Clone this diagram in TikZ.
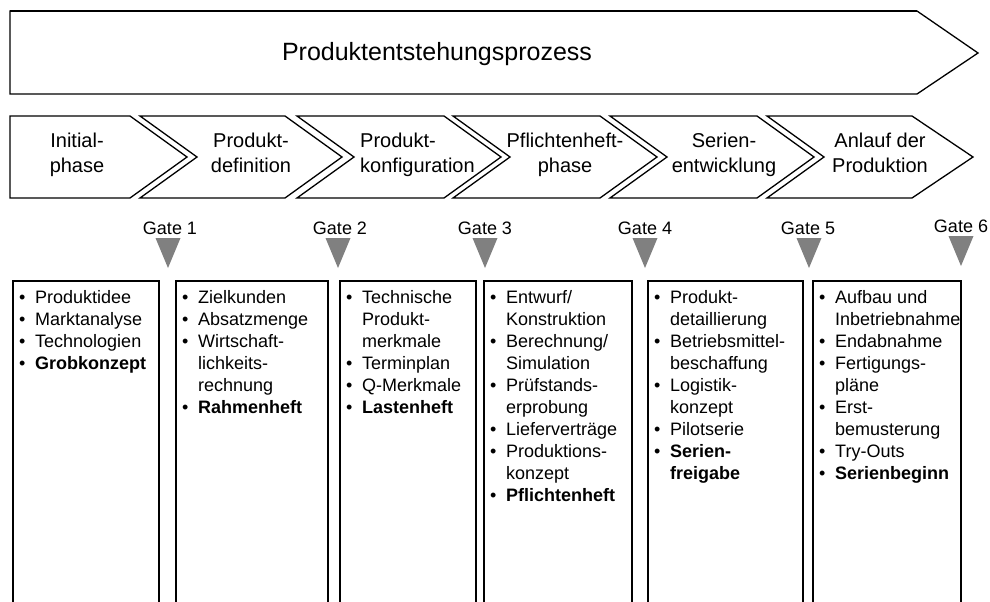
\documentclass[tikz,border=0pt]{standalone}
\usepackage{fontspec}
\setmainfont{Liberation Sans}
\begin{document}
\begin{tikzpicture}[x=1pt,y=-1pt,
  shapeline/.style={draw=black,line width=1.3pt,line join=miter,fill=white},
  boxline/.style={draw=black,line width=2.2pt},
  gatetri/.style={fill=black!50,draw=none},
  gatelabel/.style={anchor=base,inner sep=0pt,font=\fontsize{18}{22}\selectfont},
  phaselabel/.style={anchor=base,inner sep=0pt,font=\fontsize{20}{25}\selectfont},
  itemlist/.style={anchor=base west,inner sep=0pt,font=\fontsize{18}{22}\selectfont}]
\useasboundingbox (0,0) rectangle (990,602);
\fill[white] (0,0) rectangle (990,602);
% title arrow
\draw[shapeline] (10,11) -- (917,11) -- (978,53) -- (917,94) -- (10,94) -- cycle;
\draw[line width=2pt] (10,11) -- (917,11);
\node[anchor=base,inner sep=0pt,font=\fontsize{25}{30}\selectfont] (title) at (437,61) {Produktentstehungsprozess};
% phase chevrons
\draw[shapeline] (10,116) -- (130,116) -- (187,157) -- (130,198) -- (10,198) -- cycle;
\draw[shapeline] (140,116) -- (285,116) -- (342,157) -- (285,198) -- (140,198) -- (197,157) -- cycle;
\draw[shapeline] (297,116) -- (444,116) -- (501,157) -- (444,198) -- (297,198) -- (354,157) -- cycle;
\draw[shapeline] (453,116) -- (600,116) -- (657,157) -- (600,198) -- (453,198) -- (510,157) -- cycle;
\draw[shapeline] (610,116) -- (757,116) -- (814,157) -- (757,198) -- (610,198) -- (667,157) -- cycle;
\draw[shapeline] (767,116) -- (912,116) -- (973,157) -- (912,198) -- (767,198) -- (824,157) -- cycle;
\node[phaselabel] (p1) at (77,147) {\begin{tabular}[t]{@{}c@{}}Initial-\\phase\end{tabular}};
\node[phaselabel] (p2) at (251,147) {\begin{tabular}[t]{@{}c@{}}Produkt-\\definition\end{tabular}};
\node[phaselabel,anchor=base west] (p3) at (360,147) {\begin{tabular}[t]{@{}l@{}}Produkt-\\konfiguration\end{tabular}};
\node[phaselabel] (p4) at (565,147) {\begin{tabular}[t]{@{}c@{}}Pflichtenheft-\\phase\end{tabular}};
\node[phaselabel] (p5) at (724,147) {\begin{tabular}[t]{@{}c@{}}Serien-\\entwicklung\end{tabular}};
\node[phaselabel] (p6) at (880,147) {\begin{tabular}[t]{@{}c@{}}Anlauf der\\Produktion\end{tabular}};
% gates
\node[gatelabel] (g1) at (170,234.5) {Gate 1};
\node[gatelabel] (g2) at (340,234.5) {Gate 2};
\node[gatelabel] (g3) at (485,234.5) {Gate 3};
\node[gatelabel] (g4) at (645,234.5) {Gate 4};
\node[gatelabel] (g5) at (808,234.5) {Gate 5};
\node[gatelabel] (g6) at (961,232.5) {Gate 6};
\fill[gatetri] (155.5,238) -- (180.5,238) -- (168,268) -- cycle;
\fill[gatetri] (325.5,238) -- (350.5,238) -- (338,268) -- cycle;
\fill[gatetri] (472.5,238) -- (497.5,238) -- (485,268) -- cycle;
\fill[gatetri] (632.5,238) -- (657.5,238) -- (645,268) -- cycle;
\fill[gatetri] (796.5,238) -- (821.5,238) -- (809,268) -- cycle;
\fill[gatetri] (948.5,236) -- (973.5,236) -- (961,266) -- cycle;
% boxes
\draw[boxline] (13,603) -- (13,281) -- (159,281) -- (159,603);
\draw[boxline] (176,603) -- (176,281) -- (328,281) -- (328,603);
\draw[boxline] (340,603) -- (340,281) -- (476,281) -- (476,603);
\draw[boxline] (484,603) -- (484,281) -- (632,281) -- (632,603);
\draw[boxline] (648,603) -- (648,281) -- (803,281) -- (803,603);
\draw[boxline] (813,603) -- (813,281) -- (961,281) -- (961,603);
\node[itemlist] (b1) at (19,303) {\begin{tabular}[t]{@{}p{16pt}@{}l@{}}
\textbullet & Produktidee\\
\textbullet & Marktanalyse\\
\textbullet & Technologien\\
\textbullet & \textbf{Grobkonzept}
\end{tabular}};
\node[itemlist] (b2) at (182,303) {\begin{tabular}[t]{@{}p{16pt}@{}l@{}}
\textbullet & Zielkunden\\
\textbullet & Absatzmenge\\
\textbullet & Wirtschaft-\\
 & lichkeits-\\
 & rechnung\\
\textbullet & \textbf{Rahmenheft}
\end{tabular}};
\node[itemlist] (b3) at (346,303) {\begin{tabular}[t]{@{}p{16pt}@{}l@{}}
\textbullet & Technische\\
 & Produkt-\\
 & merkmale\\
\textbullet & Terminplan\\
\textbullet & Q-Merkmale\\
\textbullet & \textbf{Lastenheft}
\end{tabular}};
\node[itemlist] (b4) at (490,303) {\begin{tabular}[t]{@{}p{16pt}@{}l@{}}
\textbullet & Entwurf/\\
 & Konstruktion\\
\textbullet & Berechnung/\\
 & Simulation\\
\textbullet & Prüfstands-\\
 & erprobung\\
\textbullet & Lieferverträge\\
\textbullet & Produktions-\\
 & konzept\\
\textbullet & \textbf{Pflichtenheft}
\end{tabular}};
\node[itemlist] (b5) at (654,303) {\begin{tabular}[t]{@{}p{16pt}@{}l@{}}
\textbullet & Produkt-\\
 & detaillierung\\
\textbullet & Betriebsmittel-\\
 & beschaffung\\
\textbullet & Logistik-\\
 & konzept\\
\textbullet & Pilotserie\\
\textbullet & \textbf{Serien-}\\
 & \textbf{freigabe}
\end{tabular}};
\node[itemlist] (b6) at (819,303) {\begin{tabular}[t]{@{}p{16pt}@{}l@{}}
\textbullet & Aufbau und\\
 & Inbetriebnahme\\
\textbullet & Endabnahme\\
\textbullet & Fertigungs-\\
 & pläne\\
\textbullet & Erst-\\
 & bemusterung\\
\textbullet & Try-Outs\\
\textbullet & \textbf{Serienbeginn}
\end{tabular}};
\end{tikzpicture}
\end{document}
